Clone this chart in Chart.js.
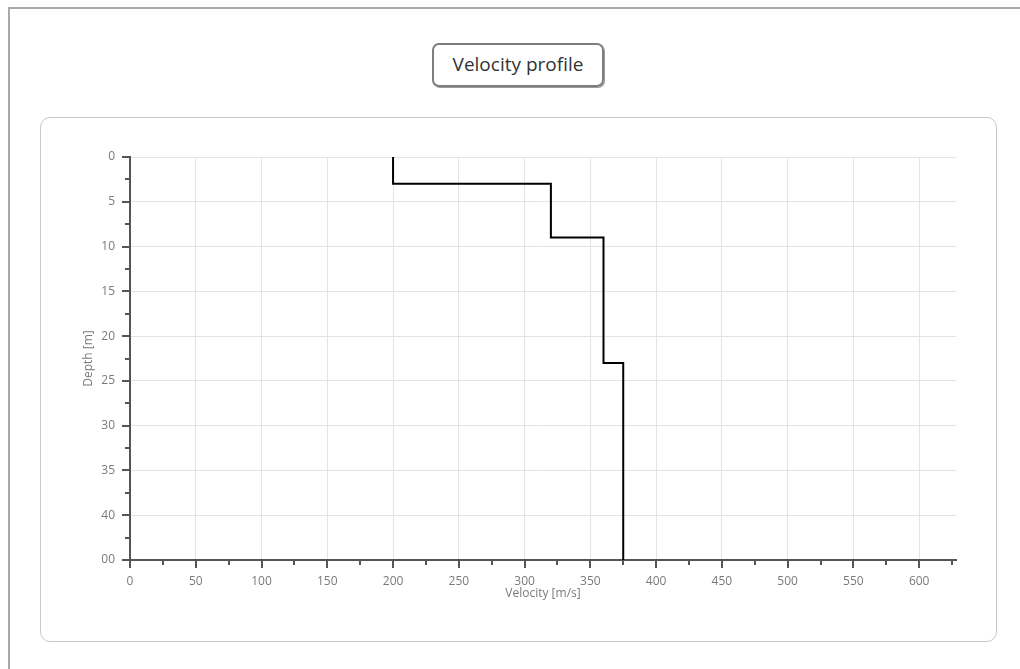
<!DOCTYPE html>
<html>
<head>
<meta charset="utf-8">
<title>Velocity profile</title>
<script src="https://cdn.jsdelivr.net/npm/chart.js@4.4.1/dist/chart.umd.min.js"></script>
<style>
  html, body { margin: 0; padding: 0; background: #ffffff; }
  body { width: 1020px; height: 669px; position: relative; overflow: hidden; font-family: "Open Sans", "DejaVu Sans", sans-serif; }
  .frame { position: absolute; left: 8px; top: 7px; width: 1040px; height: 700px; border-left: 2px solid #a9a9a9; border-top: 2px solid #a9a9a9; box-sizing: border-box; }
  .panel { position: absolute; left: 40px; top: 117px; width: 957px; height: 525px; border: 1px solid #c9c9c9; border-radius: 10px; box-sizing: border-box; }
  .title { position: absolute; left: 432px; top: 43px; width: 172px; height: 44px; border: 2px solid #7d7d7d; border-radius: 7px; box-sizing: border-box; box-shadow: 1px 1px 0 #9a9a9a; display: flex; align-items: center; justify-content: center; font-size: 19px; color: #333333; padding-bottom: 2px; }
  #chart { position: absolute; left: 0; top: 0; }
</style>
</head>
<body>
<div class="frame"></div>
<div class="panel"></div>
<div class="title">Velocity profile</div>
<canvas id="chart" width="1020" height="669"></canvas>
<script>
// Step profile: shear-wave velocity of each layer against depth
const velocity = [200, 200, 320, 320, 360, 360, 375, 375];   // m/s
const depth    = [0,   3,   3,   9,   9,   23,  23,  45];    // m

const xTickValues = [0, 50, 100, 150, 200, 250, 300, 350, 400, 450, 500, 550, 600];
const yTickValues = [0, 5, 10, 15, 20, 25, 30, 35, 40, 45];
const yTickLabels = ['0', '5', '10', '15', '20', '25', '30', '35', '40', '00'];

const X_MAX = 628;
const Y_MAX = 45;

const axisColor = '#555555';
const labelColor = '#7a7a7a';
const gridColor = '#e4e4e4';
const fontFamily = '"Open Sans", "DejaVu Sans", sans-serif';

// Small tick marks along both axes (major every label, minor half-way)
const axisTicks = {
  id: 'axisTicks',
  afterDraw(chart) {
    const { ctx, chartArea, scales } = chart;
    const xs = scales.x, ys = scales.y;
    ctx.save();
    ctx.strokeStyle = axisColor;
    ctx.lineWidth = 2;
    for (let v = 0; v <= X_MAX; v += 25) {
      const px = Math.round(xs.getPixelForValue(v));
      const len = v % 50 === 0 ? 8 : 5;
      ctx.beginPath();
      ctx.moveTo(px, chartArea.bottom);
      ctx.lineTo(px, chartArea.bottom + len);
      ctx.stroke();
    }
    for (let v = 0; v <= Y_MAX; v += 2.5) {
      const py = Math.round(ys.getPixelForValue(v));
      const len = v % 5 === 0 ? 8 : 5;
      ctx.beginPath();
      ctx.moveTo(chartArea.left, py);
      ctx.lineTo(chartArea.left - len, py);
      ctx.stroke();
    }
    ctx.restore();
  }
};

new Chart(document.getElementById('chart'), {
  type: 'scatter',
  data: {
    datasets: [{
      data: velocity.map((v, i) => ({ x: v, y: depth[i] })),
      showLine: true,
      borderColor: '#000000',
      borderWidth: 2,
      pointRadius: 0,
      fill: false,
      tension: 0
    }]
  },
  options: {
    responsive: false,
    animation: false,
    layout: { padding: { left: 81, top: 157, right: 64, bottom: 68 } },
    plugins: {
      legend: { display: false },
      tooltip: { enabled: false },
      title: { display: false }
    },
    scales: {
      x: {
        type: 'linear',
        min: 0,
        max: X_MAX,
        afterBuildTicks: axis => { axis.ticks = xTickValues.map(v => ({ value: v })); },
        afterFit: axis => { axis.height = 41; },
        grid: { color: gridColor, lineWidth: 1, drawTicks: false },
        border: { display: true, color: axisColor, width: 2 },
        ticks: {
          color: labelColor,
          padding: 14,
          maxRotation: 0,
          autoSkip: false,
          font: { family: fontFamily, size: 12 }
        },
        title: {
          display: true,
          text: 'Velocity [m/s]',
          color: labelColor,
          padding: { top: 0, bottom: 0 },
          font: { family: fontFamily, size: 12 }
        }
      },
      y: {
        type: 'linear',
        reverse: true,
        min: 0,
        max: Y_MAX,
        afterBuildTicks: axis => { axis.ticks = yTickValues.map(v => ({ value: v })); },
        afterFit: axis => { axis.width = 49; },
        grid: { color: gridColor, lineWidth: 1, drawTicks: false },
        border: { display: true, color: axisColor, width: 2 },
        ticks: {
          color: labelColor,
          padding: 15,
          autoSkip: false,
          font: { family: fontFamily, size: 12 },
          callback: (value, index) => yTickLabels[index]
        },
        title: {
          display: true,
          text: 'Depth [m]',
          color: labelColor,
          padding: { top: 0, bottom: 0 },
          font: { family: fontFamily, size: 12 }
        }
      }
    }
  },
  plugins: [axisTicks]
});
</script>
</body>
</html>
